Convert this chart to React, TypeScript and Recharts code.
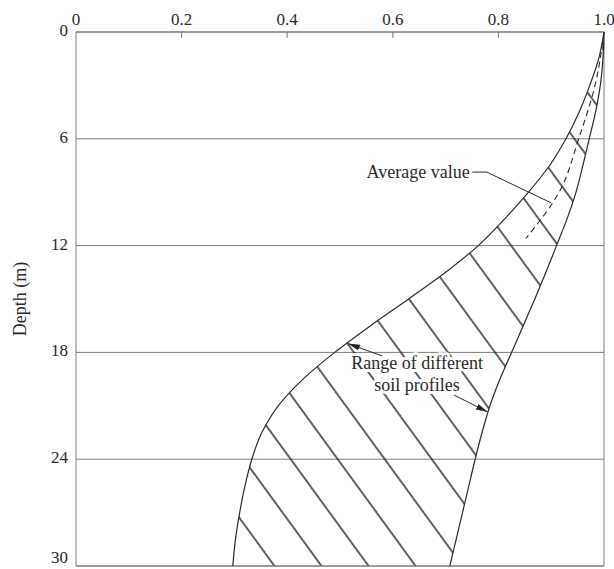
import {
  ComposedChart,
  Area,
  Line,
  XAxis,
  YAxis,
  CartesianGrid,
  ReferenceLine,
  ReferenceDot,
} from 'recharts';

// depth below surface (m) and the two bounding ratio curves
const depths = [0, 1.5, 3, 4.5, 6, 7.5, 9, 10.5, 12, 13.5, 15, 16.5, 18, 19.5, 21, 22.5, 24, 25.5, 27, 28.5, 30];
const lowerBound = [1.0, 0.99, 0.973, 0.953, 0.928, 0.897, 0.857, 0.812, 0.762, 0.7, 0.63, 0.558, 0.49, 0.43, 0.383, 0.352, 0.333, 0.32, 0.31, 0.302, 0.297];
const upperBound = [1.0, 0.998, 0.993, 0.984, 0.972, 0.96, 0.947, 0.93, 0.91, 0.89, 0.869, 0.847, 0.825, 0.803, 0.784, 0.769, 0.756, 0.744, 0.732, 0.72, 0.708];

// average curve (dashed)
const avgDepths = [0, 3, 6, 9, 11.6];
const avgValues = [1.0, 0.983, 0.952, 0.915, 0.852];

const xTicks = [0, 0.2, 0.4, 0.6, 0.8, 1.0];
const yTicks = [0, 6, 12, 18, 24, 30];

// annotation geometry in data units [ratio, depth]
const avgLeader: [number, number][] = [[0.75, 7.87], [0.778, 7.87], [0.9, 9.6]];
const rangeArrows: { from: [number, number]; to: [number, number] }[] = [
  { from: [0.58, 18.2], to: [0.515, 17.5] },
  { from: [0.716, 20.4], to: [0.78, 21.35] },
];
const labels: { text: string; x: number; y: number }[] = [
  { text: 'Average value', x: 0.648, y: 7.87 },
  { text: 'Range of different', x: 0.646, y: 18.6 },
  { text: 'soil profiles', x: 0.646, y: 19.83 },
];

const data = depths.map((d, i) => ({
  depth: d,
  lower: lowerBound[i],
  upper: upperBound[i],
  range: [lowerBound[i], upperBound[i]],
}));
const avgData = avgDepths.map((d, i) => ({ depth: d, avg: avgValues[i] }));

const FONT = '"Liberation Serif", "DejaVu Serif", serif';
const INK = '#2a2a2a';
const GRID = '#7a7a7a';
const TM = 7;

function TopTick(props: any) {
  const { x, y, payload } = props;
  const v = payload.value;
  const label = v === 0 ? '0' : v.toFixed(1);
  return (
    <g>
      <text x={x} y={y} textAnchor="middle" fontFamily={FONT} fontSize={17} fill={INK}>
        {label}
      </text>
      {v > 0 && v < 1 && <line x1={x} y1={y + TM} x2={x} y2={y + TM + 6} stroke={GRID} />}
    </g>
  );
}

function LeftTick(props: any) {
  const { x, y, payload } = props;
  // the last label sits on the bottom edge of the page, lift it a little
  const dy = payload.value === 30 ? -3 : 4;
  return (
    <text x={x} y={y} dy={dy} textAnchor="end" fontFamily={FONT} fontSize={17} fill={INK}>
      {payload.value}
    </text>
  );
}

export default function App() {
  return (
    <div style={{ position: 'absolute', left: 0, top: 0, width: 614, height: 569, background: '#fff' }}>
      <svg width={0} height={0} style={{ position: 'absolute' }}>
        <defs>
          <pattern
            id="hatch"
            patternUnits="userSpaceOnUse"
            width={20}
            height={38}
            patternTransform="translate(292,461) rotate(53.9) translate(0,-19)"
          >
            <line x1={0} y1={19} x2={20} y2={19} stroke="#1e1e1e" strokeWidth={1.4} />
          </pattern>
          <marker
            id="arrowhead"
            viewBox="0 0 12 8"
            refX={12}
            refY={4}
            markerWidth={12}
            markerHeight={8}
            markerUnits="userSpaceOnUse"
            orient="auto"
          >
            <path d="M0,1 L12,4 L0,7 z" fill="#222" />
          </marker>
        </defs>
      </svg>
      <ComposedChart
        width={614}
        height={569}
        data={data}
        layout="vertical"
        margin={{ top: 0, right: 10, bottom: 3, left: 0 }}
      >
        <CartesianGrid vertical={false} stroke={GRID} />
        <XAxis
          type="number"
          orientation="top"
          domain={[0, 1]}
          ticks={xTicks}
          height={32}
          tickSize={0}
          tickMargin={TM}
          tick={<TopTick />}
          axisLine={{ stroke: GRID }}
          tickLine={false}
          interval={0}
        />
        <YAxis
          type="number"
          dataKey="depth"
          domain={[0, 30]}
          ticks={yTicks}
          width={76}
          tickSize={0}
          tickMargin={8}
          tick={<LeftTick />}
          axisLine={{ stroke: GRID }}
          tickLine={false}
          interval={0}
          label={{
            value: 'Depth (m)',
            angle: -90,
            position: 'insideLeft',
            offset: 20,
            style: { fontFamily: FONT, fontSize: 18, fill: INK, textAnchor: 'middle' },
          }}
        />
        <ReferenceLine x={1} stroke={GRID} />
        <ReferenceLine y={30} stroke={GRID} />
        <Area
          dataKey="range"
          type="monotone"
          stroke="none"
          fill="url(#hatch)"
          fillOpacity={1}
          isAnimationActive={false}
        />
        <Line dataKey="lower" type="monotone" stroke={INK} strokeWidth={1.2} dot={false} isAnimationActive={false} />
        <Line dataKey="upper" type="monotone" stroke={INK} strokeWidth={1.2} dot={false} isAnimationActive={false} />
        <Line
          data={avgData}
          dataKey="avg"
          type="monotone"
          stroke={INK}
          strokeWidth={1.1}
          strokeDasharray="6 4"
          dot={false}
          isAnimationActive={false}
        />
        {avgLeader.slice(1).map((p, i) => (
          <ReferenceLine
            key={`lead${i}`}
            segment={[
              { x: avgLeader[i][0], y: avgLeader[i][1] },
              { x: p[0], y: p[1] },
            ]}
            stroke={INK}
            strokeWidth={1}
          />
        ))}
        {rangeArrows.map((a, i) => (
          <ReferenceLine
            key={`arr${i}`}
            segment={[
              { x: a.from[0], y: a.from[1] },
              { x: a.to[0], y: a.to[1] },
            ]}
            shape={(p: any) => (
              <line x1={p.x1} y1={p.y1} x2={p.x2} y2={p.y2} stroke={INK} strokeWidth={1} markerEnd="url(#arrowhead)" />
            )}
          />
        ))}
        {labels.map((l, i) => (
          <ReferenceDot
            key={`lab${i}`}
            x={l.x}
            y={l.y}
            r={1}
            shape={(p: any) => (
              <text
                x={p.cx}
                y={p.cy}
                dy={6}
                textAnchor="middle"
                fontFamily={FONT}
                fontSize={18}
                fill={INK}
                stroke="#fff"
                strokeWidth={6}
                strokeLinejoin="round"
                paintOrder="stroke"
              >
                {l.text}
              </text>
            )}
          />
        ))}
      </ComposedChart>
    </div>
  );
}
